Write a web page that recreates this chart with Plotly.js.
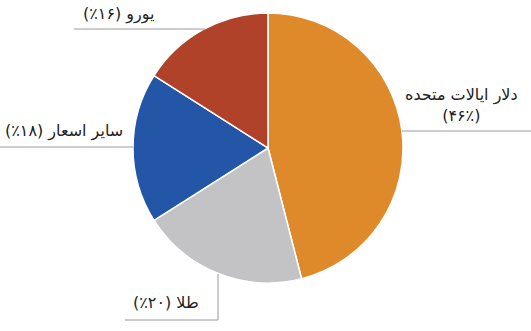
<!DOCTYPE html>
<html><head><meta charset="utf-8">
<script src="https://cdn.plot.ly/plotly-3.0.1.min.js"></script>
<style>html,body{margin:0;padding:0;background:#fff;}</style>
</head><body>
<div id="chart" style="width:531px;height:331px;"></div>
<script>
const labels = ["دلار ایالات متحده", "طلا", "سایر اسعار", "یورو"];
const values = [46, 20, 18, 16];
const pctLabels = ["۴۶٪", "۲۰٪", "۱۸٪", "۱۶٪"];
const colors = ["#DE8A2B", "#C3C3C5", "#2356A6", "#B1422A"];

const W = 531, H = 331;
const px = x => x / W, py = y => 1 - y / H;
const RLM = "\u200F";

const trace = {
  type: "pie",
  labels: labels,
  values: values,
  sort: false,
  direction: "clockwise",
  rotation: 0,
  textinfo: "none",
  hoverinfo: "label+percent",
  marker: {colors: colors, line: {color: "#ffffff", width: 1.5}},
  domain: {x: [px(133), px(403)], y: [py(283), py(13)]},
  showlegend: false
};

const font = {family: "DejaVu Sans", size: 16, color: "#222"};
const annotations = [
  {x: px(461), y: py(105), text: labels[0] + RLM + "<br>" + RLM + "(" + pctLabels[0] + ")" + RLM},
  {x: px(166), y: py(302), text: labels[1] + " (" + pctLabels[1] + ")" + RLM},
  {x: px(64), y: py(131), text: labels[2] + " (" + pctLabels[2] + ")" + RLM},
  {x: px(119), y: py(14), text: labels[3] + " (" + pctLabels[3] + ")" + RLM}
].map(a => Object.assign({xref: "paper", yref: "paper", xanchor: "center", yanchor: "middle", showarrow: false, font: font}, a));

const line = {color: "#9a9a9a", width: 1};
const seg = (x0, y0, x1, y1) => ({type: "line", xref: "paper", yref: "paper", x0: px(x0), y0: py(y0), x1: px(x1), y1: py(y1), line: line});
const shapes = [
  seg(74, 29, 205, 29),
  seg(402, 131, 531, 131),
  seg(0, 147, 133, 147),
  seg(218, 274, 218, 320),
  seg(125, 320, 218, 320)
];

Plotly.newPlot("chart", [trace], {
  width: W, height: H,
  margin: {l: 0, r: 0, t: 0, b: 0},
  paper_bgcolor: "#fff",
  annotations: annotations,
  shapes: shapes
}, {displayModeBar: false, staticPlot: true});
</script>
</body></html>
